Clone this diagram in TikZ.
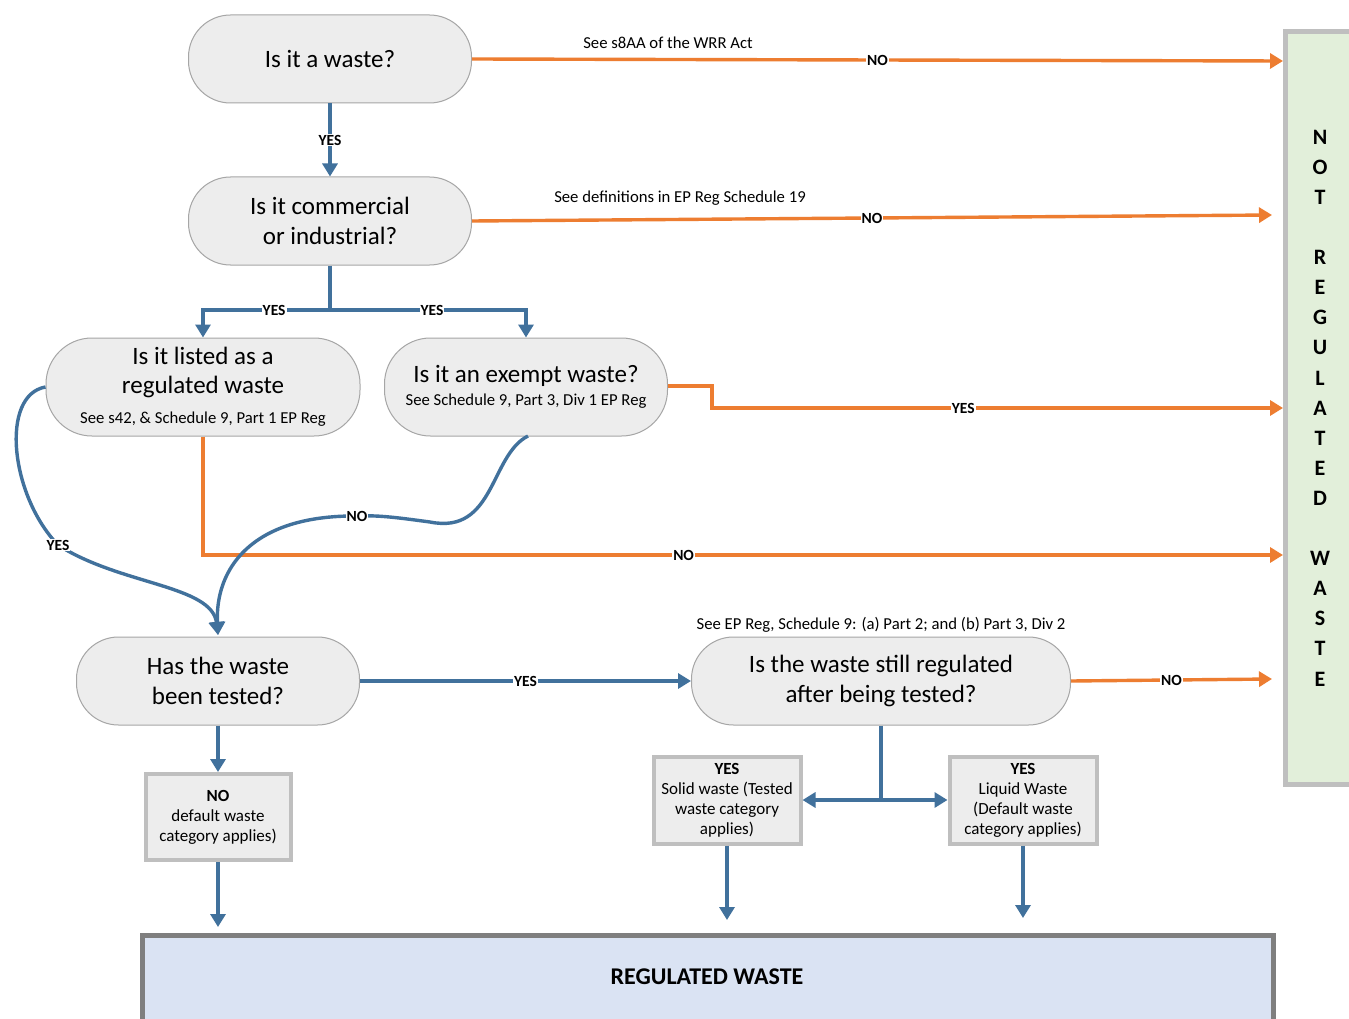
\documentclass[tikz,border=0pt]{standalone}
\usepackage{fontspec}
\setmainfont{Carlito}
\usetikzlibrary{arrows.meta}
\definecolor{bl}{HTML}{41719C}
\definecolor{orn}{HTML}{ED7D31}
\definecolor{qfill}{HTML}{EDEDED}
\definecolor{qdraw}{HTML}{A6A6A6}
\definecolor{boxdraw}{HTML}{BFBFBF}
\definecolor{regfill}{HTML}{DAE3F3}
\definecolor{regdraw}{HTML}{7F7F7F}
\definecolor{nrfill}{HTML}{E2EFDA}
\begin{document}
\begin{tikzpicture}[x=1pt,y=-1pt,
  qnode/.style={draw=qdraw, line width=1pt, fill=qfill, rounded corners=42pt, align=center, inner sep=2pt},
  big/.style={font=\fontsize{25}{30}\selectfont, align=center},
  sbox/.style={draw=boxdraw, line width=4pt, fill=qfill, align=center, font=\fontsize{17}{20}\selectfont, inner sep=2pt},
  blarrow/.style={draw=bl, line width=3.4pt, -{Triangle[length=13pt,width=15pt]}},
  blline/.style={draw=bl, line width=3.4pt},
  orarrow/.style={draw=orn, line width=3.4pt, -{Triangle[length=13pt,width=15pt]}},
  orline/.style={draw=orn, line width=3.4pt},
  lab/.style={fill=white, inner sep=1pt, font=\bfseries\fontsize{15.5}{16}\selectfont, text=black},
  note/.style={font=\fontsize{16.7}{18}\selectfont, inner sep=0pt}
]
\useasboundingbox (0,0) rectangle (1349,1019);
\fill[white] (0,0) rectangle (1349,1019);

% NOT REGULATED box
\draw[draw=boxdraw, line width=5pt, fill=nrfill] (1285,32) rectangle (1365,784);
\node[font=\bfseries\fontsize{22}{30.1}\selectfont, align=center, inner sep=0pt] (nrtext) at (1320,408)
  {N\\O\\T\\ \\R\\E\\G\\U\\L\\A\\T\\E\\D\\ \\W\\A\\S\\T\\E};

% REGULATED WASTE box
\draw[draw=regdraw, line width=5pt, fill=regfill] (142,935) rectangle (1273,1045);
\node[font=\bfseries\fontsize{24}{28}\selectfont] (regtext) at (707,977) {REGULATED WASTE};

% question nodes
\node[qnode, big, minimum width=283pt, minimum height=88pt] (n1) at (330,59) {Is it a waste?};
\node[qnode, big, minimum width=283pt, minimum height=88pt] (n2) at (330,221) {Is it commercial\\or industrial?};
\node[qnode, minimum width=314pt, minimum height=98pt, rounded corners=46pt] (n3) at (203,387) {};
\node[big, font=\fontsize{25}{29}\selectfont] (n3a) at (203,372) {Is it listed as a\\regulated waste};
\node[note] (n3b) at (203,419) {See s42, \& Schedule 9, Part 1 EP Reg};
\node[qnode, minimum width=283pt, minimum height=98pt, rounded corners=46pt] (n4) at (526,387) {};
\node[big] (n4a) at (526,376) {Is it an exempt waste?};
\node[note] (n4b) at (526,401) {See Schedule 9, Part 3, Div 1 EP Reg};
\node[qnode, big, minimum width=283pt, minimum height=88pt] (n5) at (218,681) {Has the waste\\been tested?};
\node[qnode, big, minimum width=379pt, minimum height=88pt] (n6) at (881,681) {Is the waste still regulated\\after being tested?};

% result boxes
\node[sbox, minimum width=145pt, minimum height=86pt] (bno) at (218,817) {\textbf{NO}\\default waste\\category applies)};
\node[sbox, minimum width=147pt, minimum height=87pt] (bsol) at (727,800) {\textbf{YES}\\Solid waste (Tested\\waste category\\applies)};
\node[sbox, minimum width=147pt, minimum height=87pt] (bliq) at (1023,800) {\textbf{YES}\\Liquid Waste\\(Default waste\\category applies)};

% notes
\node[note] (t1) at (668,43) {See s8AA of the WRR Act};
\node[note] (t2) at (680,198) {See definitions in EP Reg Schedule 19};
\node[note] (t3) at (881,625) {See EP Reg, Schedule 9: (a) Part 2; and (b) Part 3, Div 2};

% coordinates
\coordinate (e1) at (1283,61);
\coordinate (e2) at (1272,215);
\coordinate (c4a) at (712,386);
\coordinate (c4b) at (712,408);
\coordinate (e4) at (1283,408);
\coordinate (c3) at (203,555);
\coordinate (e3) at (1283,555);
\coordinate (e6) at (1272,679);
\coordinate (s2) at (330,310);
\coordinate (j6) at (881,800);
\coordinate (r1) at (218,927);
\coordinate (r2) at (727,920);
\coordinate (r3) at (1023,918);

% orange connectors
\draw[orarrow] (n1.east) -- node[lab, pos=0.5]{NO} (e1);
\draw[orarrow] (n2.east) -- node[lab, pos=0.5]{NO} (e2);
\draw[orarrow] (n4.east |- 0,386) -- (c4a) -- (c4b) -- node[lab, pos=0.44]{YES} (e4);
\draw[orarrow] (n3.south) -- (c3) -- node[lab, pos=0.445]{NO} (e3);
\draw[orarrow] (n6.east) -- node[lab, pos=0.5]{NO} (e6);

% blue connectors
\draw[blarrow] (n1.south) -- node[lab]{YES} (n2.north);
\draw[blline] (n2.south) -- (s2);
\draw[blarrow] (s2) -| node[lab, pos=0.22]{YES} (n3.north);
\draw[blarrow] (s2) -| node[lab, pos=0.26]{YES} (n4.north);
\draw[blarrow] (n3.west) .. controls (0,395) and (10,495) .. (58,545)
   node[lab, pos=1]{YES}
   .. controls (120,585) and (212,585) .. (218,635);
\draw[blarrow] (528,436) .. controls (490,455) and (495,535) .. (430,522)
   .. controls (400,518) and (380,515) .. (357,516) node[lab, pos=1]{NO}
   .. controls (250,515) and (215,570) .. (218,635);
\draw[blarrow] (n5.east) -- node[lab]{YES} (n6.west);
\draw[blarrow] (n5.south) -- (bno.north);
\draw[blline] (n6.south) -- (j6);
\draw[blarrow] (j6) -- (bsol.east);
\draw[blarrow] (j6) -- (bliq.west);
\draw[blarrow] (bno.south) -- (r1);
\draw[blarrow] (bsol.south) -- (r2);
\draw[blarrow] (bliq.south) -- (r3);
\end{tikzpicture}
\end{document}
